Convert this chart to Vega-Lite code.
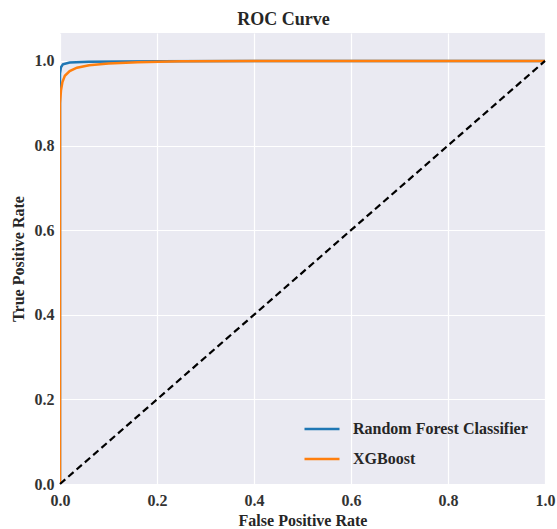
{
  "$schema": "https://vega.github.io/schema/vega-lite/v6.json",
  "width": 485,
  "height": 451,
  "autosize": "none",
  "padding": {"left": 60, "top": 33, "right": 12, "bottom": 45},
  "background": "white",
  "title": {"text": "ROC Curve", "font": "Liberation Serif", "fontSize": 18, "fontWeight": "bold", "color": "#262626", "offset": 4, "anchor": "middle", "dx": -19},
  "datasets": {
    "roc": [
      {"model": "Random Forest Classifier", "i": 0, "fpr": 0.0, "tpr": 0.0},
      {"model": "Random Forest Classifier", "i": 1, "fpr": 0.0, "tpr": 0.97},
      {"model": "Random Forest Classifier", "i": 2, "fpr": 0.002, "tpr": 0.985},
      {"model": "Random Forest Classifier", "i": 3, "fpr": 0.006, "tpr": 0.992},
      {"model": "Random Forest Classifier", "i": 4, "fpr": 0.02, "tpr": 0.996},
      {"model": "Random Forest Classifier", "i": 5, "fpr": 0.06, "tpr": 0.998},
      {"model": "Random Forest Classifier", "i": 6, "fpr": 0.2, "tpr": 0.999},
      {"model": "Random Forest Classifier", "i": 7, "fpr": 0.5, "tpr": 1.0},
      {"model": "Random Forest Classifier", "i": 8, "fpr": 1.0, "tpr": 1.0},
      {"model": "XGBoost", "i": 0, "fpr": 0.0, "tpr": 0.0},
      {"model": "XGBoost", "i": 1, "fpr": 0.0, "tpr": 0.9},
      {"model": "XGBoost", "i": 2, "fpr": 0.002, "tpr": 0.93},
      {"model": "XGBoost", "i": 3, "fpr": 0.005, "tpr": 0.95},
      {"model": "XGBoost", "i": 4, "fpr": 0.01, "tpr": 0.965},
      {"model": "XGBoost", "i": 5, "fpr": 0.02, "tpr": 0.976},
      {"model": "XGBoost", "i": 6, "fpr": 0.035, "tpr": 0.984},
      {"model": "XGBoost", "i": 7, "fpr": 0.06, "tpr": 0.99},
      {"model": "XGBoost", "i": 8, "fpr": 0.1, "tpr": 0.994},
      {"model": "XGBoost", "i": 9, "fpr": 0.16, "tpr": 0.997},
      {"model": "XGBoost", "i": 10, "fpr": 0.25, "tpr": 0.999},
      {"model": "XGBoost", "i": 11, "fpr": 0.4, "tpr": 1.0},
      {"model": "XGBoost", "i": 12, "fpr": 1.0, "tpr": 1.0}
    ],
    "diag": [
      {"fpr": 0.0, "tpr": 0.0},
      {"fpr": 1.0, "tpr": 1.0}
    ]
  },
  "layer": [
    {
      "data": {"name": "roc"},
      "mark": {"type": "line", "strokeWidth": 2.5, "clip": true},
      "encoding": {
        "x": {"field": "fpr", "type": "quantitative", "scale": {"domain": [0, 1], "nice": false, "zero": false}, "axis": {"title": "False Positive Rate", "values": [0, 0.2, 0.4, 0.6, 0.8, 1.0], "format": ".1f", "labelFlush": false}},
        "y": {"field": "tpr", "type": "quantitative", "scale": {"domain": [0, 1.066], "nice": false, "zero": false}, "axis": {"title": "True Positive Rate", "values": [0, 0.2, 0.4, 0.6, 0.8, 1.0], "format": ".1f", "labelFlush": false}},
        "color": {"field": "model", "type": "nominal", "scale": {"domain": ["Random Forest Classifier", "XGBoost"], "range": ["#1f77b4", "#ff7f0e"]}, "legend": {"title": null, "orient": "none", "legendX": 243, "legendY": 377, "symbolType": "stroke", "symbolStrokeWidth": 2.5, "symbolSize": 1225, "labelFont": "Liberation Serif", "labelFontWeight": "bold", "labelFontSize": 16, "labelColor": "#262626", "labelLimit": 0, "rowPadding": 3, "labelOffset": 12}},
        "order": {"field": "i", "type": "quantitative"}
      }
    },
    {
      "data": {"name": "diag"},
      "mark": {"type": "line", "color": "black", "strokeWidth": 2.2, "strokeDash": [7, 4]},
      "encoding": {
        "x": {"field": "fpr", "type": "quantitative"},
        "y": {"field": "tpr", "type": "quantitative"}
      }
    }
  ],
  "config": {
    "view": {"fill": "#EAEAF2", "stroke": null},
    "axis": {
      "grid": true,
      "gridColor": "white",
      "gridWidth": 1.2,
      "domain": false,
      "ticks": false,
      "labelFont": "Liberation Serif",
      "labelFontWeight": "bold",
      "labelFontSize": 16,
      "labelColor": "#333333",
      "titleFont": "Liberation Serif",
      "titleFontWeight": "bold",
      "titleFontSize": 16,
      "titleColor": "#262626"
    },
    "axisX": {"labelPadding": 8, "titlePadding": 4},
    "axisY": {"labelPadding": 6, "titlePadding": 8}
  }
}
